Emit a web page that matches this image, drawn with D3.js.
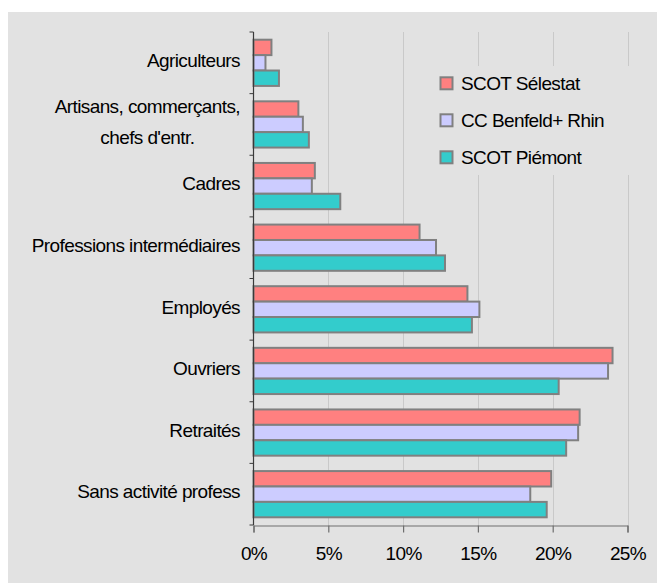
<!DOCTYPE html>
<html>
<head>
<meta charset="utf-8">
<script src="https://cdn.jsdelivr.net/npm/d3@7"></script>
<style>
  html, body { margin: 0; padding: 0; background: #ffffff; }
  svg { display: block; }
  text { font-family: "Liberation Sans", Arial, sans-serif; font-size: 19px; letter-spacing: -0.6px; fill: #000; }
</style>
</head>
<body>
<svg id="chart" width="657" height="583"></svg>
<script>
// Categories (top to bottom) and the share of each socio-professional group, in %
const categories = [
  ["Agriculteurs"],
  ["Artisans, commerçants,", "chefs d'entr."],
  ["Cadres"],
  ["Professions intermédiaires"],
  ["Employés"],
  ["Ouvriers"],
  ["Retraités"],
  ["Sans activité profess"]
];
const seriesNames = ["SCOT Sélestat", "CC Benfeld+ Rhin", "SCOT Piémont"];
const seriesColors = ["#ff8080", "#ccccff", "#33cccc"];
const scotSelestat = [1.2, 3.0, 4.1, 11.1, 14.3, 24.0, 21.8, 19.9];
const ccBenfeld    = [0.8, 3.3, 3.9, 12.2, 15.1, 23.7, 21.7, 18.5];
const scotPiemont  = [1.7, 3.7, 5.8, 12.8, 14.6, 20.4, 20.9, 19.6];
const xTicks = [0, 5, 10, 15, 20, 25];

const seriesValues = [scotSelestat, ccBenfeld, scotPiemont];

const svg = d3.select("#chart");

// chart background
svg.append("rect")
  .attr("x", 8).attr("y", 12)
  .attr("width", 649).attr("height", 571)
  .attr("fill", "#e2e2e2");

const plot = { left: 253.5, right: 627.5, top: 32, bottom: 525 };

const x = d3.scaleLinear().domain([0, 25]).range([plot.left, plot.right]);
const y = d3.scaleBand()
  .domain(d3.range(categories.length))
  .range([plot.top, plot.bottom])
  .padding(0);
const inner = d3.scaleBand()
  .domain(d3.range(seriesNames.length))
  .range([y.bandwidth() * 0.125, y.bandwidth() * 0.875])
  .padding(0);

// vertical gridlines
svg.append("g")
  .selectAll("line")
  .data(xTicks.slice(1))
  .join("line")
  .attr("x1", d => Math.round(x(d)) + 0.5)
  .attr("x2", d => Math.round(x(d)) + 0.5)
  .attr("y1", plot.top)
  .attr("y2", plot.bottom)
  .attr("stroke", "#c9c9c9")
  .attr("stroke-width", 1);

// bars
const groups = svg.append("g")
  .selectAll("g")
  .data(categories.map((c, i) => i))
  .join("g")
  .attr("transform", i => `translate(0,${y(i)})`);

groups.selectAll("rect")
  .data(i => seriesValues.map((vals, s) => ({ s, v: vals[i] })))
  .join("rect")
  .attr("x", x(0))
  .attr("y", d => inner(d.s))
  .attr("width", d => x(d.v) - x(0))
  .attr("height", inner.bandwidth())
  .attr("fill", d => seriesColors[d.s])
  .attr("stroke", "#808080")
  .attr("stroke-width", 2);

// x axis
const xAxis = d3.axisBottom(x)
  .tickValues(xTicks)
  .tickFormat(d => d + "%")
  .tickSize(7)
  .tickPadding(14);

const gx = svg.append("g")
  .attr("transform", `translate(0,${plot.bottom + 0.5})`)
  .call(xAxis);
gx.select(".domain").attr("stroke", "#6e6e6e").attr("stroke-width", 1.2);
gx.selectAll(".tick line").attr("stroke", "#6e6e6e").attr("stroke-width", 1.2);
gx.selectAll(".tick text")
  .attr("font-family", null)
  .attr("font-size", null)
  .style("font-size", "19px")
  .attr("fill", "#000");

// y axis line with category-boundary ticks
const yAxisG = svg.append("g");
yAxisG.append("line")
  .attr("x1", plot.left).attr("x2", plot.left)
  .attr("y1", plot.top).attr("y2", plot.bottom)
  .attr("stroke", "#3a3a3a").attr("stroke-width", 1.2);
yAxisG.selectAll("line.tk")
  .data(d3.range(categories.length + 1))
  .join("line")
  .attr("class", "tk")
  .attr("x1", plot.left - 4).attr("x2", plot.left)
  .attr("y1", i => i < categories.length ? y(i) : plot.bottom)
  .attr("y2", i => i < categories.length ? y(i) : plot.bottom)
  .attr("stroke", "#3a3a3a").attr("stroke-width", 1);

// category labels (multi-line labels are centred within their block)
const lineGap = 30.7;
const labels = svg.append("g");
categories.forEach((lines, i) => {
  const cy = y(i) + y.bandwidth() / 2 + 4.3;
  if (lines.length === 1) {
    labels.append("text")
      .attr("x", 240).attr("y", cy)
      .attr("text-anchor", "end")
      .text(lines[0]);
  } else {
    const t = labels.append("text")
      .attr("x", 240).attr("y", cy - lineGap / 2)
      .attr("text-anchor", "end")
      .text(lines[0]);
    const w = t.node().getComputedTextLength();
    labels.append("text")
      .attr("x", 240 - w / 2).attr("y", cy + lineGap / 2)
      .attr("text-anchor", "middle")
      .text(lines[1]);
  }
});

// legend
const legend = svg.append("g");
legend.append("rect")
  .attr("x", 411).attr("y", 66)
  .attr("width", 226).attr("height", 109)
  .attr("fill", "#e2e2e2");
const ly = d3.scalePoint().domain(d3.range(seriesNames.length)).range([83.3, 157.3]);
const items = legend.selectAll("g.item")
  .data(seriesNames.map((n, s) => s))
  .join("g")
  .attr("class", "item")
  .attr("transform", s => `translate(0,${ly(s)})`);
items.append("rect")
  .attr("x", 440.5).attr("y", -6)
  .attr("width", 12).attr("height", 12)
  .attr("fill", s => seriesColors[s])
  .attr("stroke", "#808080")
  .attr("stroke-width", 2);
items.append("text")
  .attr("x", 461).attr("y", 7)
  .text(s => seriesNames[s]);
</script>
</body>
</html>
